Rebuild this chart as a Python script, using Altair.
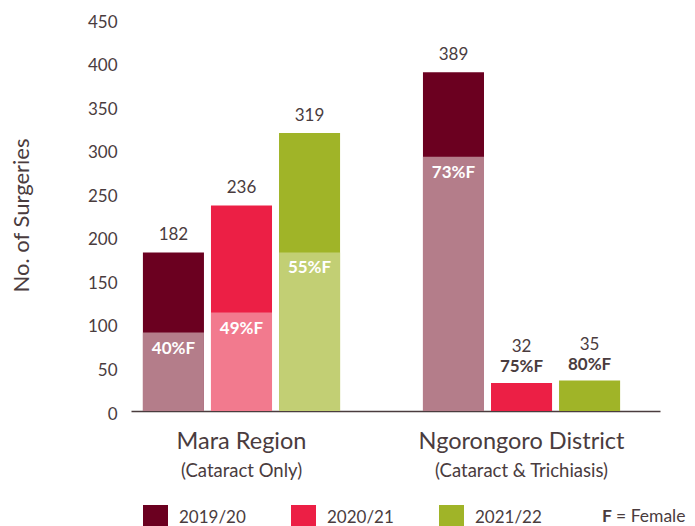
import altair as alt
import pandas as pd

# ---- data ----
groups = ["Mara Region", "Mara Region", "Mara Region",
          "Ngorongoro District", "Ngorongoro District", "Ngorongoro District"]
years = ["2019/20", "2020/21", "2021/22", "2019/20", "2020/21", "2021/22"]
totals = [182, 236, 319, 389, 32, 35]
female_segment = [90, 113, 182, 292, None, None]   # height of the lighter (female) part
female_pct = ["40%", "49%", "55%", "73%", "75%", "80%"]
group_names = ["Mara Region", "Ngorongoro District"]
group_subtitles = ["(Cataract Only)", "(Cataract & Trichiasis)"]
year_order = ["2019/20", "2020/21", "2021/22"]
dark_colors = ["#6b0020", "#ec1f45", "#a0b428"]
light_colors = ["#b47d8a", "#f27a8e", "#c2cf74"]

TXT = "#4a3c3e"
W, H = 529, 392

df = pd.DataFrame({"group": groups, "year": years, "total": totals,
                   "female": female_segment, "pct": female_pct})
df["label"] = df["pct"] + "F"
subs = pd.DataFrame({"group": group_names, "sub": group_subtitles})

x_enc = alt.X("group:N",
              scale=alt.Scale(domain=group_names, paddingInner=0.296,
                              paddingOuter=0.0925, align=0.23),
              axis=alt.Axis(title=None, labelAngle=0, ticks=False, domain=True,
                            domainColor=TXT, domainWidth=1.5, labelFontSize=23.5,
                            labelColor=TXT, labelPadding=18, labelLimit=400))
xo_enc = alt.XOffset("year:N", scale=alt.Scale(domain=year_order,
                                               paddingInner=0.103, paddingOuter=0))
y_scale = alt.Scale(domain=[0, 450], nice=False)

base = alt.Chart(df)

dark = base.mark_bar().encode(
    x=x_enc, xOffset=xo_enc,
    y=alt.Y("total:Q", scale=y_scale,
            axis=alt.Axis(title="No. of Surgeries", values=list(range(0, 451, 50)),
                          grid=False, ticks=False, domain=False, labelFontSize=17,
                          labelColor=TXT, labelPadding=14, labelOffset=3,
                          titleFontSize=22, titleFontWeight="normal", titleColor=TXT,
                          titlePadding=54)),
    color=alt.Color("year:N", scale=alt.Scale(domain=year_order, range=dark_colors),
                    legend=alt.Legend(title=None, orient="none", legendX=12, legendY=486,
                                      direction="horizontal", symbolType="square",
                                      symbolSize=625, symbolStrokeWidth=0,
                                      labelFontSize=17, labelColor=TXT, labelOffset=11,
                                      columnPadding=45)),
)

light = base.transform_filter("isValid(datum.female)").mark_bar().encode(
    x=x_enc, xOffset=xo_enc,
    y=alt.Y("female:Q", scale=y_scale),
    color=alt.Color("year:N", scale=alt.Scale(domain=year_order, range=light_colors),
                    legend=None),
)

total_split = base.transform_filter("isValid(datum.female)").mark_text(
    baseline="bottom", dy=-8, fontSize=17, color=TXT).encode(
    x=x_enc, xOffset=xo_enc, y=alt.Y("total:Q", scale=y_scale), text="total:Q")

pct_inside = base.transform_filter("isValid(datum.female)").mark_text(
    baseline="top", dy=8, fontSize=17, fontWeight="bold", color="white").encode(
    x=x_enc, xOffset=xo_enc, y=alt.Y("female:Q", scale=y_scale), text="label:N")

pct_above = base.transform_filter("!isValid(datum.female)").mark_text(
    baseline="bottom", dy=-7, fontSize=17, fontWeight="bold", color=TXT).encode(
    x=x_enc, xOffset=xo_enc, y=alt.Y("total:Q", scale=y_scale), text="label:N")

total_above = base.transform_filter("!isValid(datum.female)").mark_text(
    baseline="bottom", dy=-27, fontSize=17, color=TXT).encode(
    x=x_enc, xOffset=xo_enc, y=alt.Y("total:Q", scale=y_scale), text="total:Q")

subtitle = alt.Chart(subs).mark_text(baseline="middle", dy=60, fontSize=18.5,
                                     color=TXT).encode(
    x=x_enc, y=alt.value(H), text="sub:N")

note_df = pd.DataFrame({"a": ["F"], "b": ["= Female"]})
note_f = alt.Chart(note_df).mark_text(align="left", baseline="middle", fontSize=17.5,
                                      fontWeight="bold", color=TXT).encode(
    x=alt.value(471), y=alt.value(498), text="a:N")
note_rest = alt.Chart(note_df).mark_text(align="left", baseline="middle", fontSize=17.5,
                                         color=TXT).encode(
    x=alt.value(485), y=alt.value(498), text="b:N")

chart = alt.layer(dark, light, total_split, pct_inside, pct_above, total_above,
                  subtitle, note_f, note_rest).resolve_scale(
    color="independent").properties(
    width=W, height=H,
    padding={"left": 2, "top": 5, "right": 0, "bottom": 5}).configure(
    font="Lato").configure_view(stroke=None)

chart.save("out.html", embed_options={"renderer": "svg", "actions": False})
